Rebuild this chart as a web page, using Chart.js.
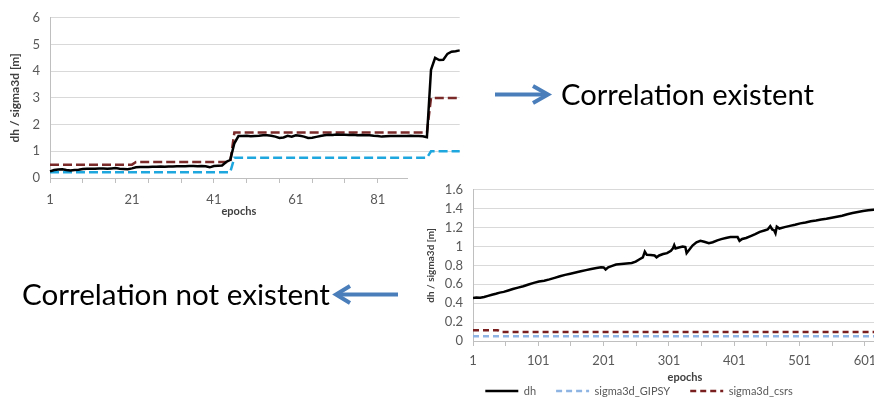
<!DOCTYPE html>
<html><head><meta charset="utf-8">
<script src="https://cdn.jsdelivr.net/npm/chart.js@4.4.1/dist/chart.umd.min.js"></script>
<style>
html,body{margin:0;padding:0;width:874px;height:407px;overflow:hidden;background:#fff;}
#c1{position:absolute;left:0;top:0;}
#c2{position:absolute;left:408px;top:172px;background:#fff;z-index:2;}
#ov{position:absolute;left:0;top:0;z-index:3;pointer-events:none;}
</style></head><body>
<canvas id="c1" width="480" height="222"></canvas>
<canvas id="c2" width="489" height="253"></canvas>
<svg id="ov" width="874" height="407">
  <line x1="495" y1="94.5" x2="546" y2="94.5" stroke="#4a7ebb" stroke-width="4"/>
  <polyline points="533,86 548,94.5 533,103" fill="none" stroke="#4a7ebb" stroke-width="4" stroke-linejoin="miter"/>
  <text x="561" y="105" font-family="Lato" font-size="29" fill="#000" textLength="253" lengthAdjust="spacingAndGlyphs">Correlation existent</text>
  <text x="22" y="305" font-family="Lato" font-size="29" fill="#000" textLength="308" lengthAdjust="spacingAndGlyphs">Correlation not existent</text>
  <line x1="398" y1="294.5" x2="338" y2="294.5" stroke="#4a7ebb" stroke-width="4"/>
  <polyline points="350,286 336,294.5 350,303" fill="none" stroke="#4a7ebb" stroke-width="4" stroke-linejoin="miter"/>
</svg>
<script>
// ---------- Top chart data (epochs 1..101) ----------
const topEpochs = Array.from({length:101},(_,i)=>String(i+1));
const topDh = [
0.25,0.30,0.32,0.33,0.30,0.28,0.30,0.31,0.34,0.35,
0.35,0.35,0.36,0.36,0.35,0.36,0.37,0.35,0.34,0.33,
0.36,0.40,0.41,0.41,0.41,0.42,0.42,0.43,0.42,0.43,
0.43,0.44,0.44,0.44,0.45,0.45,0.44,0.45,0.44,0.40,
0.45,0.46,0.47,0.60,0.68,1.30,1.57,1.57,1.58,1.56,
1.57,1.58,1.60,1.60,1.58,1.55,1.50,1.52,1.58,1.55,
1.60,1.58,1.55,1.50,1.51,1.54,1.57,1.60,1.62,1.61,
1.63,1.62,1.62,1.61,1.62,1.60,1.61,1.60,1.60,1.58,
1.57,1.55,1.56,1.57,1.57,1.57,1.57,1.57,1.58,1.57,
1.57,1.56,1.53,4.05,4.50,4.42,4.43,4.65,4.73,4.75,
4.78];
const topGipsy = [
0.22,0.22,0.22,0.22,0.22,0.22,0.22,0.22,0.22,0.22,
0.22,0.22,0.22,0.22,0.22,0.22,0.22,0.22,0.22,0.22,
0.22,0.22,0.22,0.22,0.22,0.22,0.22,0.22,0.22,0.22,
0.22,0.22,0.22,0.22,0.22,0.22,0.22,0.22,0.22,0.22,
0.22,0.22,0.22,0.22,0.22,0.76,0.76,0.76,0.76,0.76,
0.76,0.76,0.76,0.76,0.76,0.76,0.76,0.76,0.76,0.76,
0.76,0.76,0.76,0.76,0.76,0.76,0.76,0.76,0.76,0.76,
0.76,0.76,0.76,0.76,0.76,0.76,0.76,0.76,0.76,0.76,
0.76,0.76,0.76,0.76,0.76,0.76,0.76,0.76,0.76,0.76,
0.76,0.76,0.76,1.00,1.00,1.00,1.00,1.00,1.00,1.00,
1.00];
const topCsrs = [
0.50,0.50,0.50,0.50,0.50,0.50,0.50,0.50,0.50,0.50,
0.50,0.50,0.50,0.50,0.50,0.50,0.50,0.50,0.50,0.50,
0.50,0.60,0.60,0.60,0.60,0.60,0.60,0.60,0.60,0.60,
0.60,0.60,0.60,0.60,0.60,0.60,0.60,0.60,0.60,0.60,
0.60,0.60,0.60,0.60,0.60,1.70,1.70,1.70,1.70,1.70,
1.70,1.70,1.70,1.70,1.70,1.70,1.70,1.70,1.70,1.70,
1.70,1.70,1.70,1.70,1.70,1.70,1.70,1.70,1.70,1.70,
1.70,1.70,1.70,1.70,1.70,1.70,1.70,1.70,1.70,1.70,
1.70,1.70,1.70,1.70,1.70,1.70,1.70,1.70,1.70,1.70,
1.70,1.70,1.70,3.00,3.00,3.00,3.00,3.00,3.00,3.00,
3.00];
const topYTicks = [0,1,2,3,4,5,6];

// ---------- Bottom chart data ----------
const botDhEpochs = [1,6,12,18,24,30,36,42,48,55,62,70,78,86,94,102,110,118,126,134,142,150,158,166,174,182,190,197,201,204,208,214,220,228,236,244,250,256,261,264,267,273,279,282,286,292,298,304,307,309,311,316,322,326,328,332,337,343,349,355,362,368,375,381,388,395,402,406,409,413,419,426,433,440,447,452,456,459,462,464,466,470,478,486,494,502,510,518,526,534,542,550,558,566,574,582,590,598,606,614,622];
const botDh = [0.455,0.46,0.458,0.465,0.478,0.49,0.50,0.512,0.52,0.535,0.55,0.565,0.58,0.598,0.615,0.63,0.638,0.652,0.668,0.685,0.70,0.712,0.725,0.738,0.75,0.762,0.772,0.78,0.778,0.757,0.78,0.795,0.81,0.815,0.82,0.825,0.84,0.865,0.885,0.945,0.912,0.91,0.905,0.885,0.905,0.92,0.93,0.955,0.98,1.015,0.98,0.99,1.0,0.995,0.93,0.965,1.01,1.045,1.06,1.05,1.035,1.045,1.065,1.078,1.09,1.1,1.1,1.1,1.06,1.08,1.09,1.11,1.13,1.155,1.17,1.18,1.215,1.18,1.17,1.14,1.21,1.19,1.205,1.218,1.23,1.245,1.255,1.267,1.275,1.285,1.293,1.305,1.315,1.325,1.342,1.355,1.365,1.375,1.383,1.39,1.395];
const botGipsyEpochs = [1,650];
const botGipsy = [0.05,0.05];
const botCsrsEpochs = [1,39,44,650];
const botCsrs = [0.113,0.113,0.095,0.095];
const botXTicks = [1,51,101,151,201,251,301,351,401,451,501,551,601];
const botXLabels = ['1','','101','','201','','301','','401','','501','','601'];

const FONT = 'Lato';
const tickFont = {family:FONT,size:13};
const titleFont = {family:FONT,size:11,weight:'bold'};

const topXTitle = {id:'topXTitle', afterDraw(chart){
  const {ctx, chartArea} = chart;
  ctx.save();
  ctx.font = 'bold 11px ' + FONT;
  ctx.fillStyle = '#404040';
  ctx.textAlign = 'center';
  ctx.textBaseline = 'middle';
  ctx.fillText('epochs', (chartArea.left + chartArea.right)/2 - 16, chartArea.bottom + 33);
  ctx.restore();
}};

new Chart(document.getElementById('c1'), {
  type:'line',
  data:{labels:topEpochs, datasets:[
    {label:'dh', data:topDh, borderColor:'#000', borderWidth:2.5, pointRadius:0, tension:0},
    {label:'sigma3d_GIPSY', data:topGipsy, borderColor:'#1ea6df', borderWidth:2.5, borderDash:[9,4], pointRadius:0, tension:0},
    {label:'sigma3d_csrs', data:topCsrs, borderColor:'#7b2a2a', borderWidth:2.5, borderDash:[9,4], pointRadius:0, tension:0}
  ]},
  options:{
    responsive:false, animation:false,
    layout:{padding:{top:14,right:4,left:0,bottom:0}},
    plugins:{legend:{display:false}, tooltip:{enabled:false}},
    scales:{
      x:{type:'category', offset:false,
         grid:{drawOnChartArea:false, drawTicks:true, tickLength:5, tickColor:c=> (c.index%8===0?'#bfbfbf':'rgba(0,0,0,0)')},
         border:{color:'#bfbfbf'},
         ticks:{autoSkip:false, maxRotation:0, minRotation:0, padding:9, color:'#595959', font:tickFont,
                callback:(v,i)=> (i%20===0 ? topEpochs[i] : '')},
         afterFit:s=>{s.height=44;}},
      y:{min:0, max:6,
         afterBuildTicks:s=>{s.ticks = topYTicks.map(v=>({value:v}));},
         ticks:{padding:10, color:'#595959', font:tickFont},
         grid:{color:'#d9d9d9', drawTicks:false},
         border:{color:'#bfbfbf'},
         title:{display:true, text:'dh / sigma3d [m]', color:'#404040', font:{family:FONT,size:12,weight:'bold'}, padding:{top:8,bottom:0}},
         afterFit:s=>{s.width=50;}}
    }
  },
  plugins:[topXTitle]
});

const legendShift = {id:'legendShift', afterLayout(chart){
  const l = chart.legend; if(!l) return;
  l.left -= 13.5; l.right -= 13.5; l.top -= 18.5; l.bottom -= 18.5;
}};

const pts = (xs, ys) => xs.map((x,i)=>({x:x, y:ys[i]}));

new Chart(document.getElementById('c2'), {
  type:'line',
  data:{datasets:[
    {label:'dh', data:pts(botDhEpochs,botDh), borderColor:'#000', borderWidth:2.5, pointRadius:0, tension:0},
    {label:'sigma3d_GIPSY', data:pts(botGipsyEpochs,botGipsy), borderColor:'#8db4e2', borderWidth:2.5, borderDash:[6,4], pointRadius:0, tension:0},
    {label:'sigma3d_csrs', data:pts(botCsrsEpochs,botCsrs), borderColor:'#7a1f1f', borderWidth:2.5, borderDash:[6,4], pointRadius:0, tension:0}
  ]},
  options:{
    responsive:false, animation:false,
    layout:{padding:{top:10,right:0,left:0,bottom:0}},
    plugins:{
      tooltip:{enabled:false},
      legend:{display:true, position:'bottom', align:'center',
        labels:{usePointStyle:true, pointStyle:'line', pointStyleWidth:33, padding:20, color:'#595959', font:{family:FONT,size:11},
          generateLabels:chart=>{
            const items = Chart.defaults.plugins.legend.labels.generateLabels(chart);
            items.forEach(it=>{
              const ds = chart.data.datasets[it.datasetIndex];
              it.lineDash = ds.borderDash || [];
              it.lineWidth = ds.borderWidth;
              it.strokeStyle = ds.borderColor;
              it.fillStyle = ds.borderColor;
              it.pointStyle = 'line';
            });
            return items;
          }}}
    },
    scales:{
      x:{type:'linear', min:1, max:650,
         afterBuildTicks:s=>{s.ticks = botXTicks.map(v=>({value:v}));},
         grid:{drawOnChartArea:false, drawTicks:true, tickLength:5, tickColor:'#bfbfbf'},
         border:{color:'#bfbfbf'},
         ticks:{autoSkip:false, maxRotation:0, minRotation:0, padding:7, color:'#595959', font:tickFont,
                callback:(v,i)=> botXLabels[i]},
         title:{display:true, text:'epochs', color:'#404040', font:titleFont, padding:{top:0,bottom:0}},
         afterFit:s=>{s.height=43;}},
      y:{min:0, max:1.6,
         ticks:{stepSize:0.2, padding:10, color:'#595959', font:tickFont, callback:v=> String(parseFloat(Number(v).toFixed(1)))},
         grid:{color:'#d9d9d9', drawTicks:false},
         border:{color:'#bfbfbf'},
         title:{display:true, text:'dh / sigma3d [m]', color:'#404040', font:{family:FONT,size:10,weight:'bold'}, padding:{top:17,bottom:0}},
         afterFit:s=>{s.width=65;}}
    }
  },
  plugins:[legendShift]
});
</script>
</body></html>
